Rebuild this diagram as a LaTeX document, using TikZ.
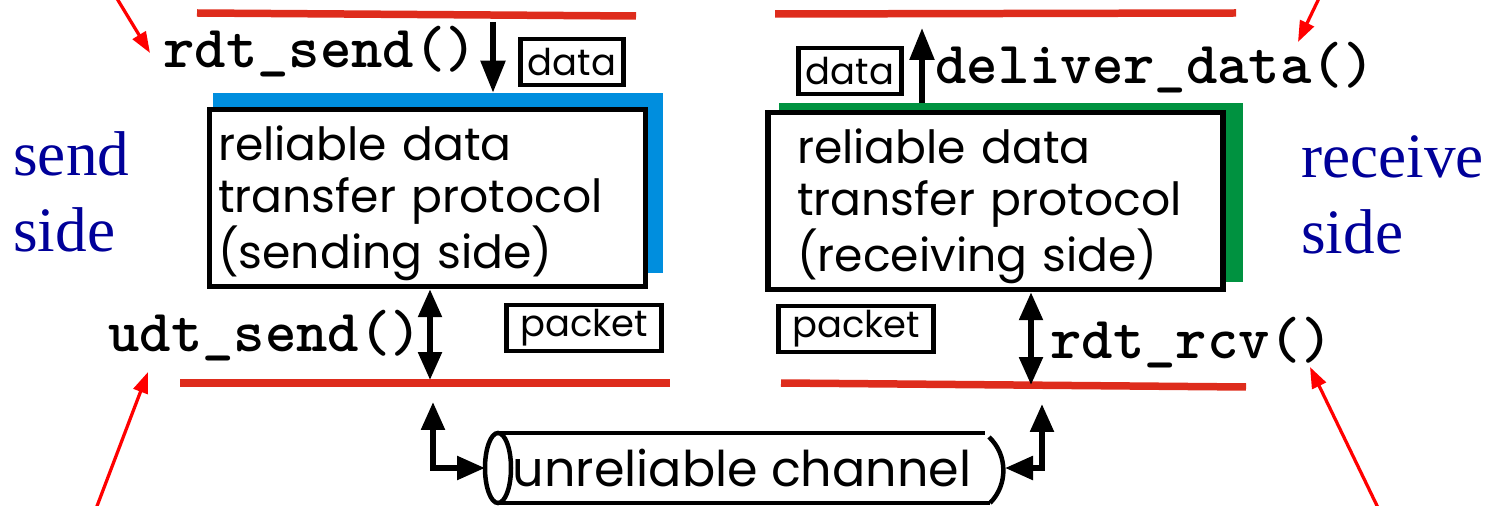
\documentclass[tikz,border=0pt]{standalone}
\usepackage{fontspec}
\setmainfont{Liberation Serif}
\newfontfamily\gothic{Poppins}
\usetikzlibrary{arrows.meta, positioning}
\definecolor{layerred}{RGB}{222,44,28}
\definecolor{pointred}{RGB}{255,0,0}
\definecolor{sendblue}{RGB}{0,142,222}
\definecolor{recvgreen}{RGB}{0,146,64}
\definecolor{sidenavy}{RGB}{0,0,153}

\begin{document}
\begin{tikzpicture}[x=0.02cm, y=-0.02cm,
    redline/.style={layerred, line width=0.15cm},
    pointer/.style={pointred, line width=0.065cm, -{Triangle[length=0.42cm,width=0.3cm]}},
    flow/.style={line width=0.11cm, -{Triangle[length=0.64cm,width=0.48cm]}},
    twoway/.style={line width=0.11cm, {Triangle[length=0.56cm,width=0.46cm]}-{Triangle[length=0.56cm,width=0.46cm]}},
    protocol/.style={draw, fill=white, line width=0.11cm, align=left, font=\gothic\fontsize{26}{29.4}\selectfont},
    tag/.style={draw, line width=0.09cm, inner sep=0, minimum height=0.92cm, font=\gothic\fontsize{21}{24}\selectfont},
    call/.style={inner sep=0, anchor=base west, font=\ttfamily\bfseries\fontsize{34}{36}\selectfont},
    sidetext/.style={sidenavy, inner sep=0, anchor=west, align=left, font=\fontsize{36}{43.2}\selectfont}]

    \useasboundingbox (0,0) rectangle (1504,506);

    % Layer boundaries
    \draw[redline] (197,13) -- (636,16);
    \draw[redline] (775,14) -- (1236,13);
    \draw[redline] (180,383) -- (670,383);
    \draw[redline] (781,383) -- (1246,387);

    % Protocol boxes with coloured backing
    \node[fill=sendblue, inner sep=0, minimum width=9cm, minimum height=3.6cm] (sendshade) at (438,183) {};
    \node[protocol, minimum width=8.72cm, minimum height=3.46cm, text width=8.38cm, inner xsep=0.17cm] (sendbox) at (427.5,198) {\rule{0pt}{0.9cm}reliable data\\transfer protocol\\(sending side)};
    \node[fill=recvgreen, inner sep=0, minimum width=9.28cm, minimum height=3.58cm] (recvshade) at (1011,192.5) {};
    \node[protocol, minimum width=9.1cm, minimum height=3.4cm, text width=7.94cm, inner xsep=0.58cm] (recvbox) at (995.5,201) {\rule{0pt}{0.9cm}reliable data\\transfer protocol\\(receiving side)};

    % Data and packet tags
    \node[tag, minimum width=2.06cm] (senddata) at (572,62) {data};
    \node[tag, minimum width=2.06cm] (recvdata) at (850,71) {data};
    \node[tag, minimum width=3.1cm] (sendpkt) at (584,328) {packet};
    \node[tag, minimum width=3.1cm] (recvpkt) at (856,329) {packet};

    % Interface calls
    \node[call] (rdtsend) at (163,68) {rdt\_send()};
    \node[call] (deliver) at (935,84) {deliver\_data()};
    \node[call] (udtsend) at (108,352) {udt\_send()};
    \node[call] (rdtrcv) at (1050,358) {rdt\_rcv()};

    % Side labels
    \node[sidetext] (sendside) at (13,192) {send\\side};
    \node[sidetext] (recvside) at (1301,195) {receive\\side};

    % Channel
    \node[inner sep=0, font=\gothic\fontsize{28}{30}\selectfont] (channel) at (742,468) {unreliable channel};
    \draw[line width=0.09cm] (498,468) ellipse [x radius=0.26cm, y radius=0.7cm];
    \draw[line width=0.09cm] (498,433) -- (985,433);
    \draw[line width=0.09cm] (498,503) -- (990,503);
    \draw[line width=0.09cm] (989,437) .. controls (1008,455) and (1008,485) .. (990,503);

    % Vertical flows
    \coordinate (sendtop) at (493,22);
    \draw[flow] (sendtop) -- (sendtop |- sendshade.north);
    \coordinate (delivertop) at (922,28);
    \draw[flow] (delivertop |- recvshade.north) -- (delivertop);
    \coordinate (udtlow) at (430,380);
    \draw[twoway] (udtlow |- sendbox.south) -- (udtlow);
    \coordinate (rcvlow) at (1031,385);
    \draw[twoway] (rcvlow |- recvbox.south) -- (rcvlow);

    % Links to the channel
    \coordinate (chanleft) at (485,468);
    \coordinate (chanright) at (1005,468);
    \coordinate (sendlink) at (433,402);
    \coordinate (rcvlink) at (1042,404);
    \draw[twoway] (sendlink) |- (chanleft);
    \draw[twoway] (rcvlink) |- (chanright);

    % Red pointers
    \coordinate (rdtsendfrom) at (113,-8);
    \coordinate (rdtsendtip) at (150,53);
    \coordinate (deliverfrom) at (1322,-8);
    \coordinate (delivertip) at (1298,42);
    \coordinate (udtsendfrom) at (94,514);
    \coordinate (udtsendtip) at (148,372);
    \coordinate (rdtrcvfrom) at (1381,514);
    \coordinate (rdtrcvtip) at (1310,367);
    \draw[pointer] (rdtsendfrom) -- (rdtsendtip);
    \draw[pointer] (deliverfrom) -- (delivertip);
    \draw[pointer] (udtsendfrom) -- (udtsendtip);
    \draw[pointer] (rdtrcvfrom) -- (rdtrcvtip);
\end{tikzpicture}
\end{document}
